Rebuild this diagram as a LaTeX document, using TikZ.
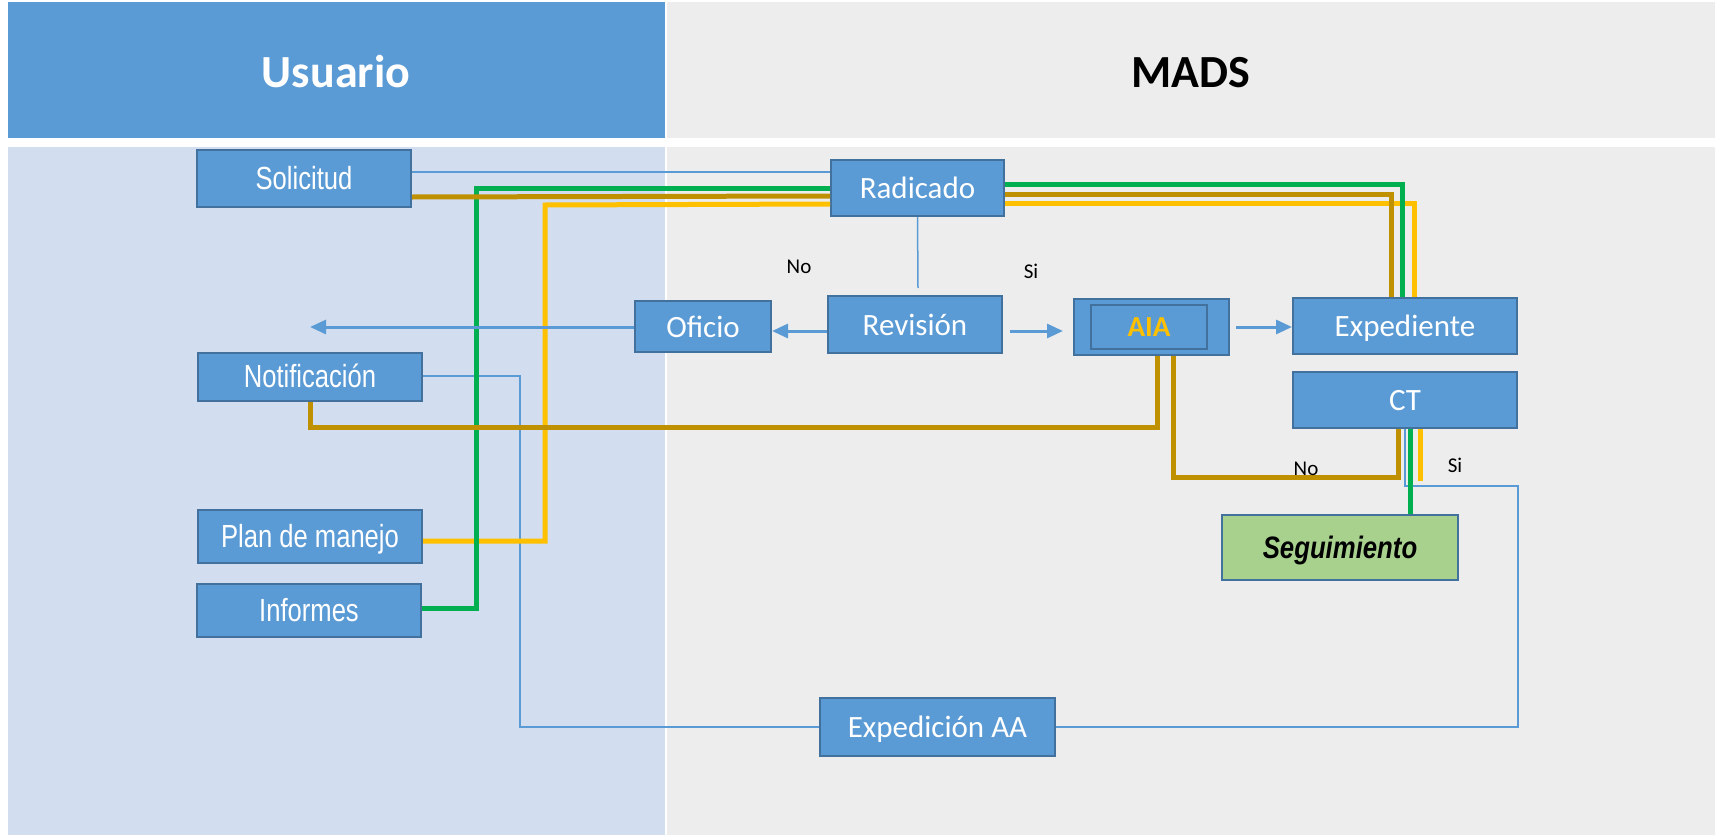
\documentclass[tikz,border=0pt]{standalone}
\usepackage{graphicx}
\usepackage{fontspec}
\setmainfont{Carlito}
\newfontfamily\arialn{Liberation Sans}
\usetikzlibrary{arrows.meta}
\definecolor{boxblue}{HTML}{5B9BD5}
\definecolor{boxedge}{HTML}{41719C}
\definecolor{lightlane}{HTML}{D2DEEF}
\definecolor{greylane}{HTML}{EDEDED}
\definecolor{lgreen}{HTML}{00B050}
\definecolor{lbrown}{HTML}{BF9000}
\definecolor{lyellow}{HTML}{FFC000}
\definecolor{seggreen}{HTML}{A9D18E}
\newcommand{\narrowtxt}[1]{\scalebox{0.8}[1]{#1}}
\begin{document}
\begin{tikzpicture}[x=1pt,y=-1pt,
  box/.style={draw=boxedge, fill=boxblue, line width=2pt, text=white, inner sep=0pt, align=center},
  cal/.style={font=\fontsize{31}{36}\selectfont, text height=28pt, text depth=7pt},
  ari/.style={font=\arialn\fontsize{32}{36}\selectfont, text height=28pt, text depth=7pt},
  hdr/.style={font=\bfseries\fontsize{46}{52}\selectfont, inner sep=0pt, text height=41pt, text depth=10pt},
  lbl/.style={font=\fontsize{21}{25}\selectfont, inner sep=0pt, text=black, text height=19pt, text depth=4.6pt},
  thinline/.style={draw=boxblue, line width=1.5pt},
  arrowline/.style={draw=boxblue, line width=3pt, -{Triangle[length=16pt,width=14pt]}},
  gline/.style={draw=lgreen, line width=5pt},
  bline/.style={draw=lbrown, line width=5pt},
  yline/.style={draw=lyellow, line width=5pt}]
\useasboundingbox (0,0) rectangle (1722,835);
% lanes
\fill[white] (0,0) rectangle (1722,835);
\fill[boxblue] (8,2) rectangle (665,138);
\fill[greylane] (667,2) rectangle (1715,138);
\fill[lightlane] (8,147) rectangle (665,835);
\fill[greylane] (667,147) rectangle (1715,835);
\node[hdr, text=white] (husr) at (336,72) {Usuario};
\node[hdr, text=black] (hmads) at (1191,72) {MADS};
% nodes
\node[box, ari, minimum width=214pt, minimum height=57pt] (sol) at (304,178.5) {\narrowtxt{Solicitud}};
\node[box, ari, minimum width=224pt, minimum height=48pt] (not) at (310,377) {\narrowtxt{Notificación}};
\node[box, ari, minimum width=224pt, minimum height=53pt] (plan) at (310,536.5) {\narrowtxt{Plan de manejo}};
\node[box, ari, minimum width=224pt, minimum height=53pt] (inf) at (309,610.5) {\narrowtxt{Informes}};
\node[box, cal, minimum width=173pt, minimum height=56pt] (rad) at (917.5,188) {Radicado};
\node[box, cal, minimum width=174pt, minimum height=57pt] (rev) at (915,324.5) {Revisión};
\node[box, cal, minimum width=136pt, minimum height=51pt] (ofi) at (703,326.5) {Oficio};
\node[box, minimum width=155pt, minimum height=56pt] (aia) at (1151.5,327) {};
\node[box, minimum width=116pt, minimum height=44pt, text=lyellow, font=\bfseries\fontsize{29}{34}\selectfont, text height=26pt, text depth=6.5pt] (aiain) at (1149,327) {AIA};
\node[box, cal, minimum width=224pt, minimum height=56pt] (exp) at (1405,326) {Expediente};
\node[box, cal, minimum width=224pt, minimum height=56pt] (ct) at (1405,400) {CT};
\node[box, fill=seggreen, text=black, minimum width=236pt, minimum height=65pt, font=\arialn\bfseries\itshape\fontsize{31}{36}\selectfont, text height=28pt, text depth=7pt] (seg) at (1340,547.5) {\scalebox{0.83}[1]{Seguimiento}};
\node[box, cal, minimum width=235pt, minimum height=58pt] (exa) at (937.5,727) {Expedición AA};
% helper coordinates
\coordinate (lft) at (310,327);
\coordinate (revtop) at (918,288);
\coordinate (aiab1) at ([xshift=5.5pt]aia.south);
\coordinate (aiab2) at ([xshift=21.5pt]aia.south);
\coordinate (ctb) at ([xshift=-7pt]ct.south);
\coordinate (ctg) at ([xshift=5pt]ct.south);
\coordinate (cty) at ([xshift=15pt]ct.south);
% thin connectors
\draw[thinline] (sol.east |- 0,172) -- (rad.west |- 0,172);
\draw[thinline] (rad.south) -- (revtop);
\draw[thinline] (not.east |- 0,376) -| (520,727) -- (exa.west);
\draw[thinline] (ct.south) |- (ct.east |- 0,486) |- (exa.east);
% thick connectors
\draw[yline] (plan.east |- 0,541) -| (545,205) -- (rad.west |- 0,204);
\draw[yline] (rad.east |- 0,203) -| ([xshift=9pt]exp.north);
\draw[yline] (cty) -- ++(0,52);
\draw[gline] (inf.east |- 0,608) -| (476,188) -- (rad.west |- 0,188);
\draw[bline] (sol.east |- 0,197) -- (rad.west |- 0,196);
\draw[bline] (rad.east |- 0,194) -| ([xshift=-14pt]exp.north);
\draw[gline] (rad.east |- 0,184) -| ([xshift=-3pt]exp.north);
\draw[bline] (not.south) |- (aiab1 |- 0,427) -- (aiab1);
\draw[bline] (aiab2) |- (ctb |- 0,477) -- (ctb);
\draw[gline] (ctg) -- (ctg |- seg.north);
% arrows
\draw[arrowline] (rev.west |- 0,331) -- (ofi.east |- 0,331);
\draw[arrowline] (ofi.west |- 0,327) -- (lft);
\draw[arrowline, shorten <=7pt, shorten >=10pt] (rev.east |- 0,331) -- (aia.west |- 0,331);
\draw[arrowline, shorten <=6pt] (aia.east |- 0,327) -- (exp.west |- 0,327);
% labels
\node[lbl] (no1) at (799,266) {No};
\node[lbl] (si1) at (1031,271) {Si};
\node[lbl] (no2) at (1306,468) {No};
\node[lbl] (si2) at (1455,465) {Si};
\end{tikzpicture}
\end{document}
